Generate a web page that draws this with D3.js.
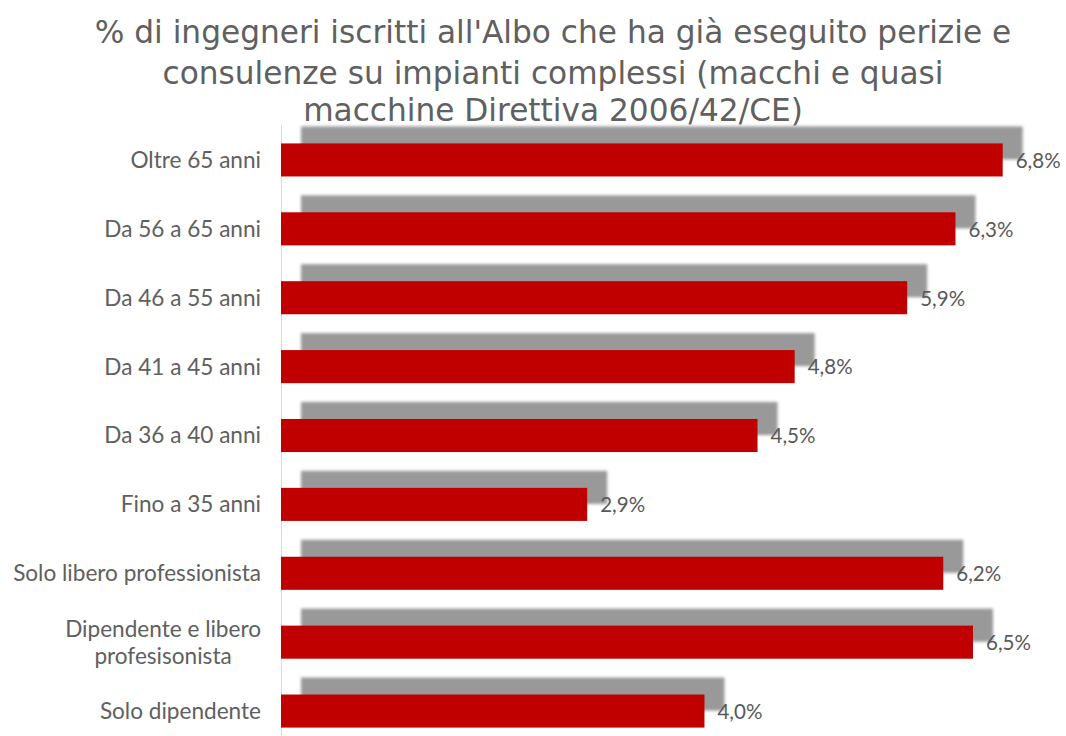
<!DOCTYPE html>
<html><head><meta charset="utf-8">
<script src="https://cdn.jsdelivr.net/npm/d3@7"></script>
<style>body{margin:0;background:#fff;}svg{display:block;}</style>
</head><body>
<svg id="c" width="1066" height="736"></svg>
<script>
const titleLines = ["% di ingegneri iscritti all'Albo che ha già eseguito perizie e",
  "consulenze su impianti complessi (macchi e quasi",
  "macchine Direttiva 2006/42/CE)"];
const categories = ["Oltre 65 anni","Da 56 a 65 anni","Da 46 a 55 anni","Da 41 a 45 anni","Da 36 a 40 anni","Fino a 35 anni","Solo libero professionista","Dipendente e libero profesisonista","Solo dipendente"];
const categoryLines = [["Oltre 65 anni"],["Da 56 a 65 anni"],["Da 46 a 55 anni"],["Da 41 a 45 anni"],["Da 36 a 40 anni"],["Fino a 35 anni"],["Solo libero professionista"],["Dipendente e libero","profesisonista"],["Solo dipendente"]];
const values = [6.80, 6.355, 5.90, 4.84, 4.49, 2.885, 6.24, 6.52, 3.99];
const valueLabels = ["6,8%","6,3%","5,9%","4,8%","4,5%","2,9%","6,2%","6,5%","4,0%"];

const FONT = "'DejaVu Sans', 'Open Sans', sans-serif";
const LFONT = "'Lato', 'Open Sans', 'DejaVu Sans', sans-serif";
const svg = d3.select("#c");
const defs = svg.append("defs");
const f = defs.append("filter").attr("id","blur").attr("x","-5%").attr("y","-30%").attr("width","110%").attr("height","160%");
f.append("feGaussianBlur").attr("stdDeviation",1.6);

const x = d3.scaleLinear().domain([0, 6.8]).range([281, 1002.7]);
const y = d3.scaleBand().domain(categories).range([125.5, 745.5]).paddingInner(0.52).paddingOuter(0.26);

// title
const tBase = [43, 84, 121];
const tg = svg.append("g");
titleLines.forEach((t,i)=>{
  tg.append("text").attr("x",553).attr("y",tBase[i]).attr("text-anchor","middle")
    .attr("fill","#606060").style("font-family",FONT).style("font-size","30px").text(t);
});
{
  const els = tg.selectAll("text").nodes();
  const w0 = els[0].getComputedTextLength();
  const fs = 30*917/w0;
  els.forEach(e=>e.style.fontSize=fs+"px");
}

// axis line
svg.append("line").attr("x1",281.5).attr("x2",281.5).attr("y1",125).attr("y2",736).attr("stroke","#d9d9d9").attr("stroke-width",1);

// shadows
svg.append("g").selectAll("rect").data(values).join("rect")
  .attr("x", x(0)+20).attr("y",(d,i)=>y(categories[i])-17)
  .attr("width", d=>x(d)-x(0)).attr("height", y.bandwidth())
  .attr("fill","#999").attr("filter","url(#blur)");

// bars
svg.append("g").selectAll("rect").data(values).join("rect")
  .attr("x", x(0)).attr("y",(d,i)=>y(categories[i]))
  .attr("width", d=>x(d)-x(0)).attr("height", y.bandwidth())
  .attr("fill","#c00000");

// value labels
const vl = svg.append("g").selectAll("text").data(values).join("text")
  .attr("x", d=>x(d)+13).attr("y",(d,i)=>y(categories[i])+y.bandwidth()/2)
  .attr("dy","0.38em").attr("fill","#595959").style("font-family",LFONT).style("font-size","18px")
  .text((d,i)=>valueLabels[i]);
{
  const w = vl.nodes()[0].getComputedTextLength();
  vl.style("font-size", (18*45/w)+"px");
}

// category labels
const cg = svg.append("g");
categoryLines.forEach((lines,i)=>{
  const cy = y(categories[i])+y.bandwidth()/2;
  const t = cg.append("text").attr("fill","#606060").style("font-family",LFONT).style("font-size","18px");
  lines.forEach((ln,j)=>{
    t.append("tspan").attr("x",261).attr("y", cy + (j-(lines.length-1)/2)*27).attr("dy","0.35em").text(ln);
  });
});
{
  const texts = cg.selectAll("text").nodes();
  const w = texts[6].getComputedTextLength();
  const fs = 18*248/w;
  cg.selectAll("text").style("font-size", fs+"px");
  categoryLines.forEach((lines,i)=>{
    const t = d3.select(texts[i]);
    if(lines.length===1){ t.attr("text-anchor","end"); }
    else {
      const spans = t.selectAll("tspan").nodes();
      const maxW = d3.max(spans, s=>s.getComputedTextLength());
      const c = 261 - maxW/2;
      t.attr("text-anchor","middle"); t.selectAll("tspan").attr("x", c);
    }
  });
}
</script>
</body></html>
